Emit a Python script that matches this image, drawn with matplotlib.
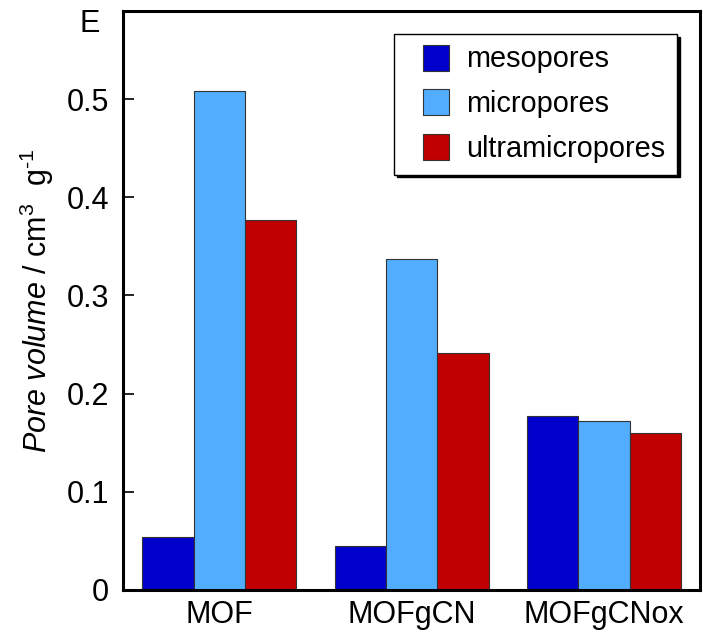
import numpy as np
import matplotlib
matplotlib.use("Agg")
import matplotlib.pyplot as plt
from matplotlib.patches import Rectangle
from matplotlib.container import BarContainer
from matplotlib.legend_handler import HandlerPatch, update_from_first_child

plt.rcParams["font.family"] = ["Liberation Sans", "DejaVu Sans"]
plt.rcParams["mathtext.fontset"] = "custom"
plt.rcParams["mathtext.rm"] = "Liberation Sans"
plt.rcParams["mathtext.it"] = "Liberation Sans:italic"

samples = ["MOF", "MOFgCN", "MOFgCNox"]
mesopores = [0.054, 0.045, 0.177]
micropores = [0.508, 0.337, 0.172]
ultramicropores = [0.377, 0.241, 0.160]

series = [
    ("mesopores", mesopores, "#0000CC"),
    ("micropores", micropores, "#52ADFF"),
    ("ultramicropores", ultramicropores, "#C00000"),
]

fig = plt.figure(figsize=(7.03, 6.33), dpi=100)
ax = fig.add_axes([0.175, 0.068, 0.821, 0.915])

x = np.arange(len(samples))
width = 0.267
for i, (name, vals, color) in enumerate(series):
    ax.bar(x + (i - 1) * width, vals, width, color=color, label=name,
           edgecolor="#333333", linewidth=0.8)

ax.set_xlim(-0.5, 2.5)
ax.set_ylim(0, 0.59)
ax.set_yticks([0, 0.1, 0.2, 0.3, 0.4, 0.5])
ax.set_yticklabels(["0", "0.1", "0.2", "0.3", "0.4", "0.5"])
ax.set_xticks(x)
ax.set_xticklabels(samples)
ax.tick_params(axis="y", direction="in", length=8, width=1.2, labelsize=22, pad=10)
ax.tick_params(axis="x", length=0, labelsize=22, pad=7)
for sp in ax.spines.values():
    sp.set_linewidth(2.2)

ax.set_ylabel(r"$\it{Pore\ volume}$ / cm$^{\text{3}}$  g$^{\text{-1}}$", fontsize=22, labelpad=8)

fig.text(0.128, 0.962, "E", fontsize=22, ha="center", va="center")


# square legend swatch sitting at the right end of the handle box
def square_patch(legend, orig_handle, xdescent, ydescent, width, height, fontsize):
    s = 26 * 72 / 100
    return Rectangle((width - xdescent - s, -ydescent + (height - s) / 2), s, s)


leg = ax.legend(loc="upper right", bbox_to_anchor=(0.960, 0.960), borderaxespad=0,
                fontsize=20.8, fancybox=False, edgecolor="black", framealpha=1,
                handlelength=1.5, handleheight=0.9, handletextpad=0.6,
                labelspacing=0.58, borderpad=0.4,
                handler_map={BarContainer: HandlerPatch(patch_func=square_patch,
                                                        update_func=update_from_first_child)},
                shadow={"color": "black", "alpha": 1})
leg.get_frame().set_linewidth(1.0)

fig.savefig("out.png", dpi=100)
